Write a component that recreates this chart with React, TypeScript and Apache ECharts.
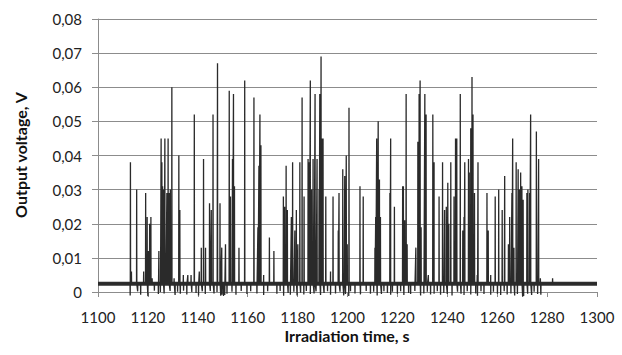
import React, { useEffect, useRef } from "react";
import * as echarts from "echarts";

// Tick values / axis settings
const xTicksMin = 1100;
const xTicksMax = 1300;
const xTickStep = 20;
const yTicksMax = 0.08;
const yTickStep = 0.01;

// Baseline level of the output signal (V)
const baseLevel = 0.0024;

// Spike peaks: time (s) and value (V)
const spikeTimes = [
  1113.0, 1113.4, 1115.5, 1118.3, 1119.1, 1119.7, 1120.2, 1120.7, 1121.2, 1121.7,
  1124.4, 1125.3, 1125.6, 1125.9, 1126.2, 1126.8, 1127.2, 1127.6, 1128.1, 1128.5,
  1129.0, 1129.6, 1130.5, 1132.4, 1132.8, 1134.2, 1136.0, 1137.3, 1138.6, 1140.6,
  1141.4, 1142.3, 1143.1, 1144.7, 1145.4, 1146.1, 1147.9, 1148.9, 1149.6, 1151.1,
  1152.6, 1153.1, 1153.9, 1154.3, 1154.7, 1156.5, 1158.8, 1162.5, 1164.1, 1164.5,
  1164.9, 1165.3, 1166.4, 1168.7, 1170.5, 1174.3, 1174.8, 1175.4, 1175.9, 1177.5,
  1178.0, 1178.9, 1179.5, 1180.1, 1180.9, 1181.8, 1182.6, 1184.2, 1184.7, 1185.1,
  1185.6, 1186.2, 1187.0, 1187.8, 1188.6, 1188.9, 1189.4, 1189.9, 1190.2, 1191.3,
  1193.2, 1194.2, 1196.3, 1196.6, 1198.1, 1198.6, 1198.9, 1199.5, 1199.9, 1200.6,
  1205.0, 1206.3, 1211.0, 1211.3, 1211.7, 1212.0, 1212.3, 1212.6, 1212.8, 1213.2,
  1217.0, 1217.3, 1218.8, 1222.1, 1222.4, 1222.9, 1223.5, 1223.9, 1227.4, 1228.2,
  1228.7, 1229.1, 1229.5, 1231.0, 1231.5, 1232.4, 1234.2, 1234.7, 1236.7, 1238.1,
  1238.9, 1239.6, 1240.2, 1240.6, 1241.4, 1242.7, 1243.3, 1243.8, 1245.2, 1246.2,
  1246.7, 1247.0, 1248.5, 1248.8, 1249.4, 1249.9, 1250.3, 1250.9, 1252.0, 1252.3,
  1255.9, 1256.4, 1257.4, 1259.2, 1260.6, 1262.0, 1263.0, 1264.5, 1265.0, 1265.9,
  1266.2, 1266.7, 1267.6, 1268.4, 1268.9, 1269.4, 1269.9, 1270.4, 1271.9, 1272.3,
  1273.0, 1273.4, 1275.7, 1276.6, 1277.3, 1282.2,
];
const spikeValues = [
  0.038, 0.006, 0.030, 0.006, 0.029, 0.022, 0.012, 0.020, 0.022, 0.004,
  0.012, 0.045, 0.038, 0.031, 0.030, 0.045, 0.006, 0.029, 0.045, 0.029,
  0.030, 0.060, 0.004, 0.040, 0.024, 0.005, 0.005, 0.005, 0.052, 0.006,
  0.013, 0.039, 0.013, 0.026, 0.024, 0.052, 0.067, 0.026, 0.013, 0.014,
  0.059, 0.028, 0.039, 0.058, 0.031, 0.013, 0.062, 0.057, 0.019, 0.037,
  0.052, 0.043, 0.005, 0.016, 0.012, 0.028, 0.025, 0.037, 0.024, 0.022,
  0.038, 0.018, 0.024, 0.014, 0.038, 0.057, 0.028, 0.039, 0.038, 0.062,
  0.030, 0.039, 0.058, 0.039, 0.030, 0.058, 0.069, 0.045, 0.045, 0.028,
  0.006, 0.028, 0.018, 0.029, 0.036, 0.004, 0.034, 0.040, 0.014, 0.054,
  0.031, 0.028, 0.013, 0.022, 0.045, 0.028, 0.050, 0.013, 0.033, 0.022,
  0.029, 0.045, 0.025, 0.031, 0.031, 0.021, 0.058, 0.014, 0.013, 0.044,
  0.058, 0.062, 0.019, 0.058, 0.052, 0.005, 0.052, 0.038, 0.028, 0.038,
  0.024, 0.025, 0.032, 0.020, 0.038, 0.028, 0.045, 0.045, 0.058, 0.018,
  0.022, 0.038, 0.039, 0.035, 0.048, 0.063, 0.052, 0.029, 0.005, 0.038,
  0.029, 0.018, 0.005, 0.028, 0.030, 0.024, 0.034, 0.014, 0.022, 0.029,
  0.045, 0.013, 0.038, 0.036, 0.030, 0.035, 0.031, 0.027, 0.029, 0.030,
  0.029, 0.052, 0.047, 0.039, 0.004, 0.004,
];

// Downward dips of the noisy baseline: time (s) and value (V)
const dipTimes = [
  1112.9, 1115.9, 1117.1, 1120.0, 1122.6, 1124.2, 1125.0, 1126.5, 1128.9, 1130.9,
  1131.9, 1133.0, 1134.3, 1135.6, 1137.6, 1139.3, 1140.3, 1141.8, 1143.0, 1145.0,
  1146.5, 1147.7, 1149.2, 1149.7, 1150.3, 1150.8, 1151.7, 1153.7, 1155.3, 1157.4,
  1159.7, 1161.2, 1163.7, 1166.4, 1168.0, 1171.7, 1173.0, 1174.4, 1176.2, 1177.1,
  1178.5, 1179.8, 1181.2, 1182.5, 1183.5, 1185.1, 1186.6, 1187.4, 1189.2, 1190.6,
  1192.0, 1193.2, 1195.2, 1197.0, 1198.5, 1199.2, 1200.5, 1201.2, 1203.0, 1205.2,
  1207.5, 1209.2, 1210.5, 1211.9, 1213.6, 1214.6, 1216.0, 1217.3, 1218.0, 1220.0,
  1221.3, 1222.6, 1224.5, 1225.3, 1227.0, 1229.3, 1230.6, 1232.0, 1233.3, 1234.7,
  1236.0, 1237.3, 1238.6, 1240.0, 1241.9, 1244.1, 1245.5, 1246.7, 1248.0, 1249.4,
  1251.4, 1252.1, 1253.5, 1254.7, 1257.4, 1258.5, 1260.1, 1261.4, 1262.8, 1264.0,
  1265.5, 1267.0, 1268.1, 1270.2, 1270.6, 1272.2, 1273.8, 1274.8, 1276.2, 1277.5,
];
const dipValues = [
  -0.0010, 0.0002, -0.0008, -0.0012, 0.0004, -0.0006, 0.0000, -0.0004, 0.0003, -0.0009,
  0.0001, -0.0005, 0.0004, -0.0007, 0.0000, -0.0003, -0.0010, 0.0002, -0.0006, 0.0003,
  -0.0004, 0.0000, -0.0011, -0.0008, -0.0012, -0.0009, -0.0005, 0.0001, -0.0008, 0.0003,
  -0.0006, 0.0002, -0.0004, -0.0009, 0.0002, -0.0005, 0.0003, -0.0011, -0.0003, -0.0008,
  0.0001, -0.0010, -0.0002, -0.0007, 0.0003, -0.0006, -0.0004, 0.0002, -0.0009, -0.0003,
  0.0002, -0.0008, -0.0004, 0.0001, -0.0010, -0.0006, -0.0012, 0.0002, -0.0004, -0.0007,
  0.0003, -0.0005, 0.0001, -0.0010, -0.0006, 0.0002, -0.0003, -0.0008, 0.0001, -0.0005,
  0.0002, -0.0009, -0.0003, -0.0006, 0.0003, -0.0010, -0.0004, 0.0001, -0.0007, -0.0005,
  0.0002, -0.0008, -0.0003, -0.0006, -0.0010, 0.0001, -0.0005, -0.0009, 0.0002, -0.0007,
  -0.0004, -0.0011, 0.0002, -0.0006, -0.0008, 0.0001, -0.0005, -0.0009, 0.0002, -0.0007,
  -0.0004, -0.0010, -0.0006, -0.0014, -0.0012, -0.0005, -0.0009, 0.0001, -0.0006, -0.0008,
];

const xTitle = "Irradiation time, s";
const yTitle = "Output voltage, V";

function buildSignal(): [number, number][] {
  const pts: [number, number][] = [];
  pts.push([xTicksMin, baseLevel]);
  spikeTimes.forEach((t, i) => {
    pts.push([t - 0.06, baseLevel]);
    pts.push([t, spikeValues[i]]);
    pts.push([t + 0.06, baseLevel]);
  });
  dipTimes.forEach((t, i) => {
    pts.push([t - 0.06, baseLevel]);
    pts.push([t, dipValues[i]]);
    pts.push([t + 0.06, baseLevel]);
  });
  pts.push([xTicksMax, baseLevel]);
  pts.sort((a, b) => a[0] - b[0]);
  return pts;
}

export default function App() {
  const ref = useRef<HTMLDivElement>(null);
  useEffect(() => {
    document.body.style.margin = "0";
    if (!ref.current) return;
    const chart = echarts.init(ref.current, null, { renderer: "svg" });
    const axisGray = "#8c8c8c";
    const font = "Lato, 'Open Sans', sans-serif";
    chart.setOption({
      animation: false,
      backgroundColor: "#ffffff",
      grid: { left: 98, right: 25, top: 19, bottom: 63, containLabel: false },
      xAxis: {
        type: "value",
        min: xTicksMin,
        max: xTicksMax,
        interval: xTickStep,
        axisLine: { show: true, onZero: false, lineStyle: { color: axisGray, width: 1 } },
        axisTick: { show: true, length: 5, lineStyle: { color: axisGray } },
        splitLine: { show: false },
        axisLabel: {
          color: "#222",
          fontFamily: font,
          fontSize: 15,
          margin: 17,
          formatter: (v: number) => String(v),
        },
      },
      yAxis: {
        type: "value",
        min: 0,
        max: yTicksMax,
        interval: yTickStep,
        axisLine: { show: true, lineStyle: { color: axisGray, width: 1 } },
        axisTick: { show: true, length: 6, lineStyle: { color: axisGray } },
        splitLine: { show: true, lineStyle: { color: axisGray, width: 1 } },
        axisLabel: {
          color: "#222",
          fontFamily: font,
          fontSize: 15,
          margin: 16,
          formatter: (v: number) => (v === 0 ? "0" : v.toFixed(2).replace(".", ",")),
        },
      },
      series: [
        {
          type: "line",
          data: [
            [xTicksMin, baseLevel],
            [xTicksMax, baseLevel],
          ],
          symbol: "none",
          lineStyle: { color: "#2e2e2e", width: 4 },
          silent: true,
          z: 2,
        },
        {
          type: "line",
          data: buildSignal(),
          symbol: "none",
          clip: false,
          lineStyle: { color: "#2a2a2a", width: 1.3 },
          silent: true,
          z: 3,
        },
      ],
      graphic: [
        {
          type: "text",
          x: 347,
          y: 335,
          style: {
            text: xTitle,
            font: `bold 16px ${font}`,
            fill: "#111",
            align: "center",
            verticalAlign: "middle",
          },
        },
        {
          type: "text",
          x: 20,
          y: 155,
          rotation: Math.PI / 2,
          style: {
            text: yTitle,
            font: `bold 16px ${font}`,
            fill: "#111",
            align: "center",
            verticalAlign: "middle",
          },
        },
      ],
    });
    return () => chart.dispose();
  }, []);
  return (
    <div
      ref={ref}
      style={{ position: "fixed", left: 0, top: 0, width: 622, height: 355, background: "#fff" }}
    />
  );
}
